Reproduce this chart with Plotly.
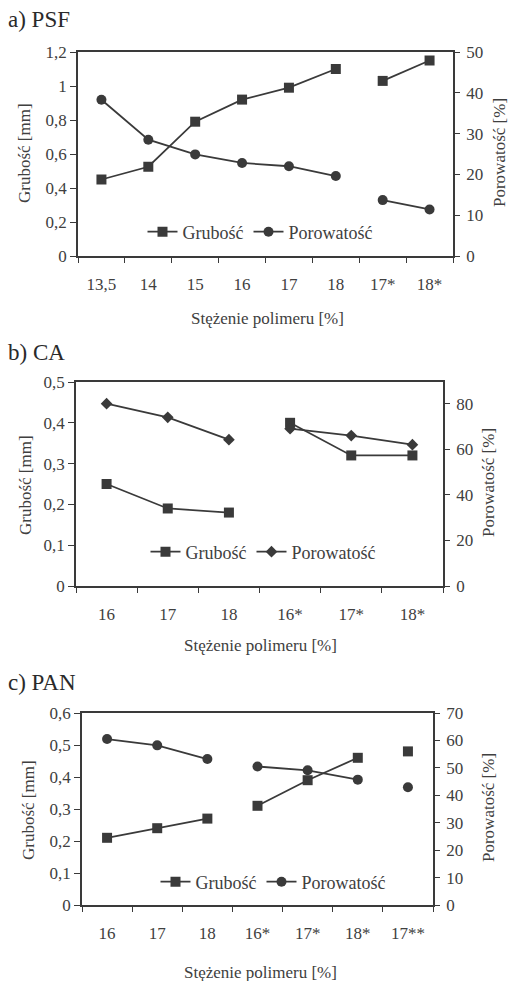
import plotly.graph_objects as go

# ---- data ----
cat_a = ["13,5", "14", "15", "16", "17", "18", "17*", "18*"]
grub_a = [0.45, 0.525, 0.79, 0.92, 0.99, 1.10, 1.03, 1.15]
por_a = [38.3, 28.5, 24.9, 22.8, 22.0, 19.6, 13.7, 11.4]
seg_a = [0, 0, 0, 0, 0, 0, 1, 1]

cat_b = ["16", "17", "18", "16*", "17*", "18*"]
grub_b = [0.25, 0.19, 0.18, 0.40, 0.32, 0.32]
por_b = [80, 74, 64.2, 69, 66, 62]
seg_b = [0, 0, 0, 1, 1, 1]

cat_c = ["16", "17", "18", "16*", "17*", "18*", "17**"]
grub_c = [0.21, 0.24, 0.27, 0.31, 0.39, 0.46, 0.48]
por_c = [60.5, 58.2, 53.2, 50.5, 49.1, 45.7, 42.9]
seg_c = [0, 0, 0, 1, 1, 1, 2]

titles = ["a) PSF", "b) CA", "c) PAN"]
xtitle = "Stężenie polimeru [%]"
ytitle_l = "Grubość [mm]"
ytitle_r = "Porowatość [%]"

FONT = "Liberation Serif"
LC = "#3a3a3a"
TC = "#404040"


def with_gaps(cats, vals, segs):
    xs, ys = [], []
    for i, (c, v, s) in enumerate(zip(cats, vals, segs)):
        if i > 0 and s != segs[i - 1]:
            xs.append(None)
            ys.append(None)
        xs.append(c)
        ys.append(v)
    return xs, ys


fig = go.Figure()

W, H = 511, 981
panels = [
    dict(cats=cat_a, g=grub_a, p=por_a, s=seg_a, psym="circle", psize=10,
         xd=(78, 453), yd=(52, 256), yl=(0, 1.2), ydt=0.2, yr=(0, 50), yrdt=10,
         leg=(260, 232), title_y=20, ylt=(25, 153), yrt=(500, 153), xt=(267, 318)),
    dict(cats=cat_b, g=grub_b, p=por_b, s=seg_b, psym="diamond", psize=9,
         xd=(76, 443), yd=(382, 586), yl=(0, 0.5), ydt=0.1, yr=(0, 89.5), yrdt=20,
         leg=(263, 552), title_y=353, ylt=(25, 485), yrt=(488, 483), xt=(260, 645)),
    dict(cats=cat_c, g=grub_c, p=por_c, s=seg_c, psym="circle", psize=10,
         xd=(82, 433), yd=(713, 905), yl=(0, 0.6), ydt=0.1, yr=(0, 70), yrdt=10,
         leg=(273, 882), title_y=682, ylt=(28, 810), yrt=(488, 808), xt=(260, 972)),
]

layout = dict(
    width=W, height=H, autosize=False,
    margin=dict(l=0, r=0, t=0, b=0),
    paper_bgcolor="white", plot_bgcolor="white",
    separators=", ",
    font=dict(family=FONT, size=16, color=TC),
    showlegend=True,
)
annotations = []

for k, P in enumerate(panels):
    xi = k + 1
    yl_i = 2 * k + 1
    yr_i = 2 * k + 2
    xo_i = 4 + k          # overlay x axis: inner half of crossing ticks
    yo_i = 7 + k          # overlay right y axis: inner half of crossing ticks
    xname = "x" if xi == 1 else f"x{xi}"
    ylname = "y" if yl_i == 1 else f"y{yl_i}"
    yrname = f"y{yr_i}"
    legname = "legend" if k == 0 else f"legend{k + 1}"
    n = len(P["cats"])
    xdom = [P["xd"][0] / W, P["xd"][1] / W]
    ydom = [1 - P["yd"][1] / H, 1 - P["yd"][0] / H]

    gx, gy = with_gaps(P["cats"], P["g"], P["s"])
    px, py = with_gaps(P["cats"], P["p"], P["s"])
    fig.add_trace(go.Scatter(
        x=gx, y=gy, xaxis=xname, yaxis=ylname, name="Grubość",
        mode="lines+markers", connectgaps=False,
        line=dict(color=LC, width=1.8),
        marker=dict(symbol="square", size=10, color=LC),
        legend=legname,
    ))
    fig.add_trace(go.Scatter(
        x=px, y=py, xaxis=xname, yaxis=yrname, name="Porowatość",
        mode="lines+markers", connectgaps=False,
        line=dict(color=LC, width=1.8),
        marker=dict(symbol=P["psym"], size=P["psize"], color=LC),
        legend=legname,
    ))

    xkey = "xaxis" if xi == 1 else f"xaxis{xi}"
    ylkey = "yaxis" if yl_i == 1 else f"yaxis{yl_i}"
    layout[xkey] = dict(
        domain=xdom, anchor=ylname, type="category",
        categoryorder="array", categoryarray=P["cats"],
        range=[-0.5, n - 0.5], tickson="boundaries",
        ticks="outside", ticklen=5, tickcolor=LC, tickwidth=1,
        showline=True, linecolor=LC, linewidth=1.5, mirror=True,
        showgrid=False, zeroline=False, fixedrange=True,
        ticklabelstandoff=12, automargin=False,
        tickfont=dict(family=FONT, size=17, color=TC),
    )
    layout[f"xaxis{xo_i}"] = dict(
        overlaying=xname, anchor=ylname, type="linear",
        range=[-0.5, n - 0.5], tick0=-0.5, dtick=1,
        ticks="inside", ticklen=5, tickcolor=LC, tickwidth=1,
        showticklabels=False, showline=False, showgrid=False, zeroline=False,
    )
    layout[ylkey] = dict(
        domain=ydom, anchor=xname, range=list(P["yl"]), dtick=P["ydt"], tick0=0,
        ticks="outside", ticklen=6, tickcolor=LC, tickwidth=1,
        showline=True, linecolor=LC, linewidth=1.5,
        showgrid=False, zeroline=False, automargin=False,
        tickfont=dict(family=FONT, size=17, color=TC),
    )
    layout[f"yaxis{yr_i}"] = dict(
        overlaying=ylname, anchor=xname, side="right",
        range=list(P["yr"]), dtick=P["yrdt"], tick0=0,
        ticks="outside", ticklen=5, tickcolor=LC, tickwidth=1,
        showline=True, linecolor=LC, linewidth=1.5,
        showgrid=False, zeroline=False, automargin=False,
        ticklabelstandoff=3,
        tickfont=dict(family=FONT, size=17, color=TC),
    )
    layout[f"yaxis{yo_i}"] = dict(
        overlaying=ylname, anchor=xname, side="right",
        range=list(P["yr"]), dtick=P["yrdt"], tick0=0,
        ticks="inside", ticklen=5, tickcolor=LC, tickwidth=1,
        showticklabels=False, showline=False, showgrid=False, zeroline=False,
    )
    layout[legname] = dict(
        orientation="h", x=P["leg"][0] / W, y=1 - P["leg"][1] / H,
        xanchor="center", yanchor="middle", xref="paper", yref="paper",
        bgcolor="rgba(0,0,0,0)", borderwidth=0,
        font=dict(family=FONT, size=18, color=TC),
        itemwidth=30, tracegroupgap=0,
    )

    annotations += [
        dict(text=titles[k], x=6 / W, y=1 - P["title_y"] / H, xref="paper", yref="paper",
             xanchor="left", yanchor="middle", showarrow=False,
             font=dict(family=FONT, size=23, color="#2a2a2a")),
        dict(text=ytitle_l, x=P["ylt"][0] / W, y=1 - P["ylt"][1] / H, xref="paper", yref="paper",
             xanchor="center", yanchor="middle", showarrow=False, textangle=-90,
             font=dict(family=FONT, size=17, color=TC)),
        dict(text=ytitle_r, x=P["yrt"][0] / W, y=1 - P["yrt"][1] / H, xref="paper", yref="paper",
             xanchor="center", yanchor="middle", showarrow=False, textangle=-90,
             font=dict(family=FONT, size=17, color=TC)),
        dict(text=xtitle, x=P["xt"][0] / W, y=1 - P["xt"][1] / H, xref="paper", yref="paper",
             xanchor="center", yanchor="middle", showarrow=False,
             font=dict(family=FONT, size=17, color=TC)),
    ]

layout["annotations"] = annotations
fig.update_layout(**layout)
fig.write_html("out.html", config={"displayModeBar": False},
               post_script="document.body.style.margin='0';document.body.style.overflow='hidden';")
